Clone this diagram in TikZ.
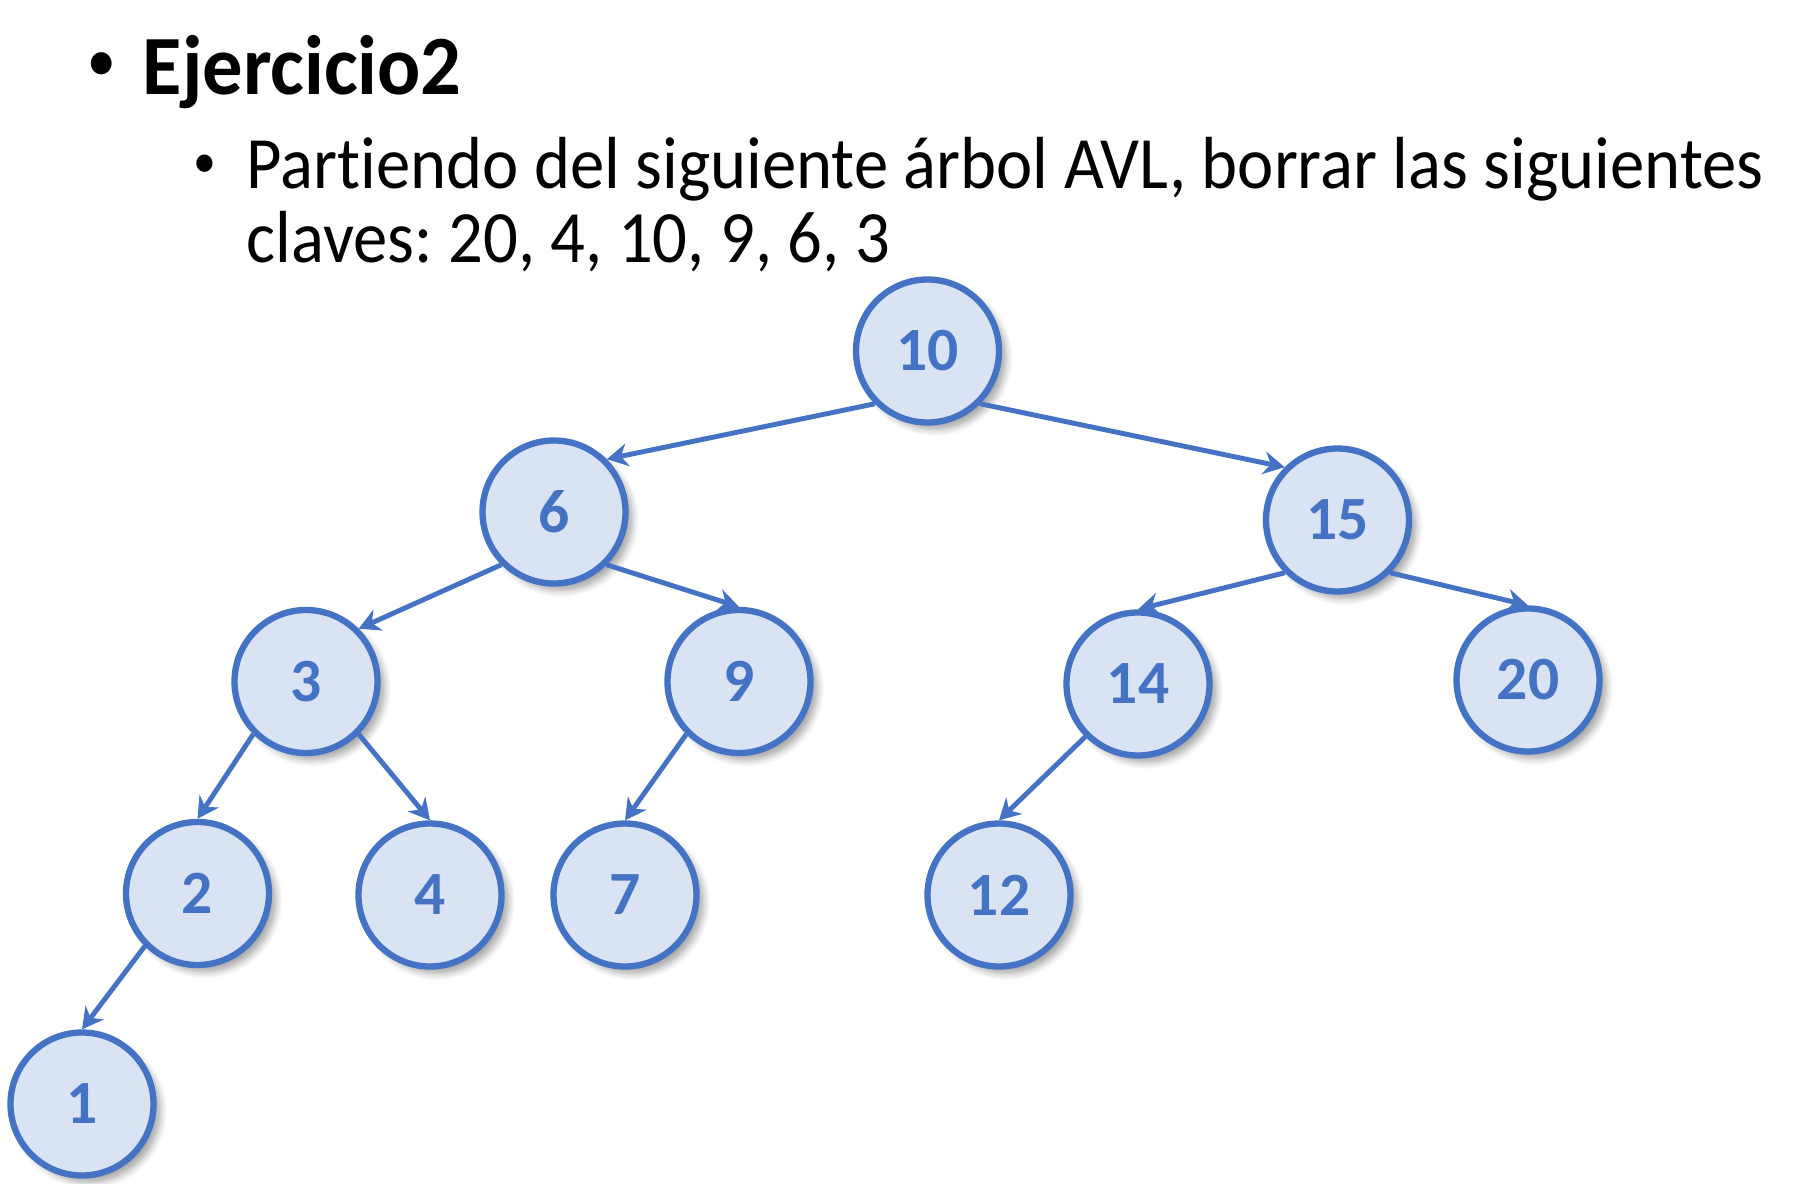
\documentclass[tikz,border=0pt]{standalone}
\usepackage{fontspec}
\setmainfont{Carlito}[Ligatures=NoCommon]
\newfontfamily\bodyfont{Carlito}[Ligatures=NoCommon, FakeStretch=0.93]
\newfontfamily\headfont{Carlito}[Ligatures=NoCommon, FakeStretch=0.955]
\usetikzlibrary{positioning,arrows.meta,shadows.blur}
\definecolor{avlblue}{HTML}{4472C4}
\definecolor{avlfill}{HTML}{DAE3F3}
\frenchspacing

\begin{document}
\begin{tikzpicture}[
    every node/.style={font=\bodyfont\fontsize{21}{21}\selectfont},
    key/.style={circle, draw=avlblue, line width=1.8pt, fill=avlfill, minimum size=1.43cm, inner sep=0pt, text=avlblue, font=\fontsize{17.5}{17.5}\selectfont\bfseries, blur shadow={shadow xshift=2pt, shadow yshift=-2pt, shadow blur steps=6, shadow opacity=35}},
    link/.style={draw=avlblue, line width=1.4pt, -{Stealth[length=6pt,width=6.5pt]}},
    txt/.style={anchor=base west, inner sep=0pt},
    dot/.style={anchor=center, inner sep=0pt}
]
\useasboundingbox (0,0) rectangle (18.10,-11.84);

% 标题
\node[dot] (dot1) at (1.02,-0.66) {\fontsize{15}{15}\selectfont\bfseries •};
\node[txt] (title) at (1.42,-0.95) {\headfont\fontsize{24}{24}\selectfont\bfseries Ejercicio2};
\node[dot] (dot2) at (2.05,-1.66) {\fontsize{14}{14}\selectfont •};
\node[txt] (line1) at (2.46,-1.89) {Partiendo del siguiente árbol AVL, borrar las siguientes};
\node[txt] (line2) at (2.46,-2.63) {claves: 20, 4, 10, 9, 6, 3};

% 树的节点
\node[key] (n10) at (9.275,-3.51) {10};
\node[key] (n6) at (5.54,-5.12) {6};
\node[key] (n15) at (13.375,-5.20) {15};
\node[key] (n3) at (3.06,-6.815) {3};
\node[key] (n9) at (7.39,-6.815) {9};
\node[key] (n14) at (11.38,-6.84) {14};
\node[key] (n20) at (15.28,-6.80) {20};
\node[key] (n2) at (1.975,-8.935) {2};
\node[key] (n4) at (4.30,-8.95) {4};
\node[key] (n7) at (6.25,-8.95) {7};
\node[key] (n12) at (9.99,-8.95) {12};
\node[key] (n1) at (0.82,-11.04) {1};

% 连接线
\draw[link] (n10.south west) -- (n6.north east);
\draw[link] (n10.south east) -- (n15.north west);
\draw[link] (n6.south west) -- (n3.north east);
\draw[link] (n6.south east) -- (n9.north);
\draw[link] (n15.south west) -- (n14.north);
\draw[link] (n15.south east) -- (n20.north);
\draw[link] (n3.south west) -- (n2.north);
\draw[link] (n3.south east) -- (n4.north);
\draw[link] (n9.south west) -- (n7.north);
\draw[link] (n14.south west) -- (n12.north);
\draw[link] (n2.south west) -- (n1.north);

\end{tikzpicture}
\end{document}
